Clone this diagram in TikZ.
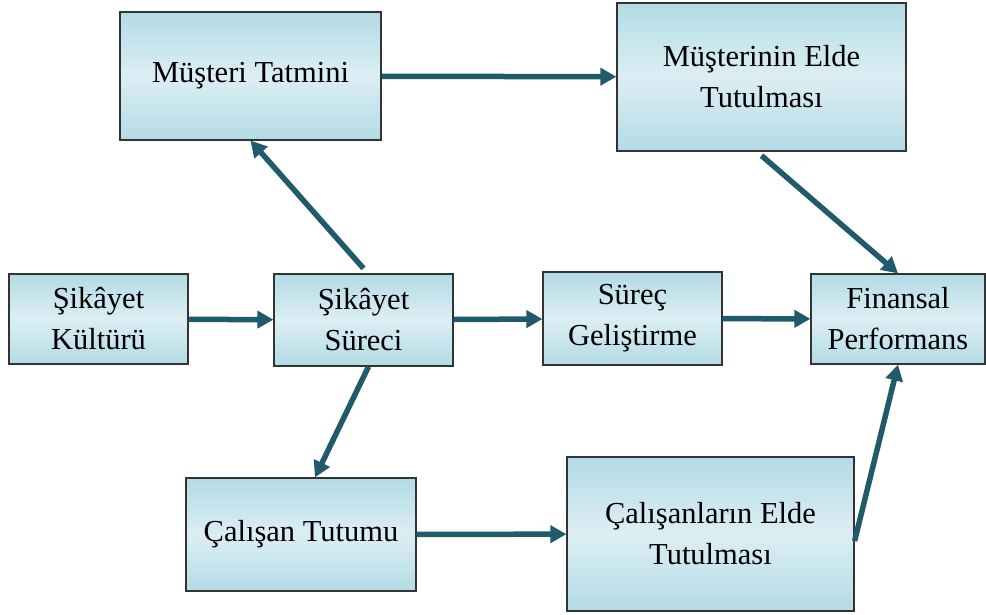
\documentclass[tikz,border=0pt]{standalone}
\usepackage{fontspec}
\setmainfont{Liberation Serif}
\usepackage{tikz}
\usetikzlibrary{arrows.meta}

\definecolor{boxtop}{HTML}{B3DBE5}
\definecolor{boxmid}{HTML}{DCEEF4}
\definecolor{arrowteal}{HTML}{1F5B6A}

\begin{document}
\begin{tikzpicture}[x=1pt,y=-1pt,
		box/.style={draw=black!80, line width=1.2pt, top color=boxtop, bottom color=boxtop, middle color=boxmid,
			align=center, inner sep=0pt, font=\fontsize{30.5}{41}\selectfont},
		link/.style={-{Triangle[length=16pt,width=17pt]}, draw=arrowteal, line width=5.5pt}]
		\useasboundingbox (0,0) rectangle (986,614);
		\node[box, minimum width=261pt, minimum height=128pt] (musteri-tatmini)    at (250.5,76)  {Müşteri Tatmini};
		\node[box, minimum width=289pt, minimum height=148pt] (musteri-elde)       at (761.5,77)  {Müşterinin Elde\\Tutulması};
		\node[box, minimum width=179pt, minimum height=90pt]  (sikayet-kulturu)    at (98.5,319)  {Şikâyet\\Kültürü};
		\node[box, minimum width=179pt, minimum height=92pt]  (sikayet-sureci)     at (363.5,320) {Şikâyet\\Süreci};
		\node[box, minimum width=179pt, minimum height=93pt]  (surec-gelistirme)   at (632.5,318.5) {Süreç\\Geliştirme};
		\node[box, minimum width=174pt, minimum height=90pt]  (finansal)           at (898,319)   {Finansal\\Performans};
		\node[box, minimum width=230pt, minimum height=113pt] (calisan-tutumu)     at (301,534.5) {Çalışan Tutumu};
		\node[box, minimum width=287pt, minimum height=154pt] (calisan-elde)       at (710.5,534) {Çalışanların Elde\\Tutulması};
		\path
			(musteri-tatmini)  edge [link] (musteri-elde)
			(sikayet-kulturu)  edge [link] (sikayet-sureci)
			(sikayet-sureci)   edge [link] (surec-gelistirme)
			(surec-gelistirme) edge [link] (finansal)
			(calisan-tutumu)   edge [link] (calisan-elde)
			([yshift=5pt]sikayet-sureci.north) edge [link] (musteri-tatmini.south)
			([xshift=5pt]sikayet-sureci.south) edge [link] ([xshift=14pt]calisan-tutumu.north)
			([yshift=-4pt]musteri-elde.south)  edge [link] (finansal.north)
			([yshift=-7pt]calisan-elde.east)   edge [link] (finansal.south);
	\end{tikzpicture}
\end{document}
